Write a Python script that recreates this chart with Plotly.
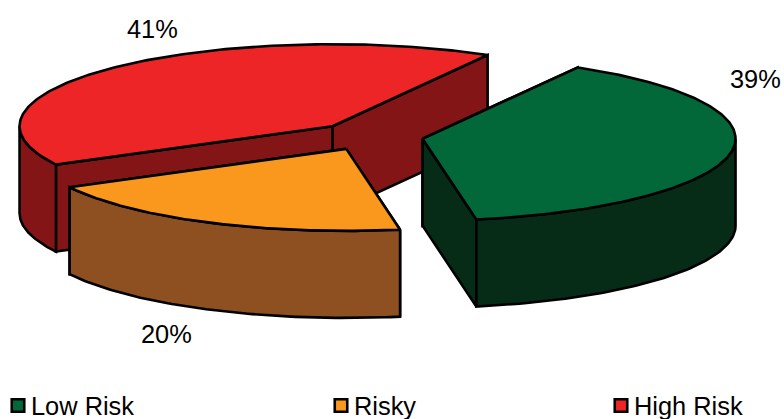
import numpy as np
import plotly.graph_objects as go

# Portfolio risk shares, in the order the slices run round the pie
categories = ["Low Risk", "Risky", "High Risk"]
shares = [39, 20, 41]
share_labels = ["39%", "20%", "41%"]

top_colors = ["#02683A", "#F9981D", "#EE2526"]
wall_colors = ["#062B17", "#8E5021", "#831517"]

# Pie geometry in pixel-sized axis units
CX, CY = 369.8, 136.3
RX, RY = 313.0, 82.0
DEPTH = 87.0
EXPLODE = 0.171
START_DEG = -60.3
OUTLINE = 2.6
FONT = "Liberation Sans, Arial, sans-serif"
FONT_SIZE = 25.4

label_xy = {"Low Risk": (755, 79), "Risky": (166, 334), "High Risk": (152.5, 29)}
legend_xy = {"Low Risk": 18, "Risky": 341, "High Risk": 621}
LEGEND_Y = 405.5


def rim(t_deg, ox, oy, drop=0.0):
    t = np.radians(t_deg)
    return ox + RX * np.cos(t), oy + RY * np.sin(t) + drop


fig = go.Figure()


def add_poly(xs, ys, fill):
    fig.add_trace(go.Scatter(
        x=list(xs), y=list(ys), mode="lines", fill="toself", fillcolor=fill,
        line=dict(color="black", width=OUTLINE), hoverinfo="skip", showlegend=False,
    ))


# Slice angular spans follow from the shares
spans = []
angle = START_DEG
for share in shares:
    sweep = share * 3.6
    spans.append((angle, angle + sweep))
    angle += sweep

# Back-to-front painting: high risk, then risky, then low risk
for i in [2, 1, 0]:
    a0, a1 = spans[i]
    mid = np.radians((a0 + a1) / 2)
    ox = CX + EXPLODE * RX * np.cos(mid)
    oy = CY + EXPLODE * RY * np.sin(mid)

    # Radial side walls
    for edge in (a0, a1):
        ex, ey = rim(edge, ox, oy)
        add_poly([ox, ex, ex, ox, ox], [oy, ey, ey + DEPTH, oy + DEPTH, oy], wall_colors[i])

    # Outer wall: only the front half of the rim (0..180 degrees) faces the viewer
    for k in (-1, 0, 1):
        lo = max(a0, 0 + 360 * k)
        hi = min(a1, 180 + 360 * k)
        if hi > lo:
            ts = np.linspace(lo, hi, 80)
            tx, ty = rim(ts, ox, oy)
            bx, by = rim(ts[::-1], ox, oy, DEPTH)
            add_poly(np.r_[tx, bx, tx[0]], np.r_[ty, by, ty[0]], wall_colors[i])

    # Top face
    ts = np.linspace(a0, a1, 200)
    tx, ty = rim(ts, ox, oy)
    add_poly(np.r_[ox, tx, ox], np.r_[oy, ty, oy], top_colors[i])

# Percentage labels
for name, text in zip(categories, share_labels):
    x, y = label_xy[name]
    fig.add_annotation(x=x, y=y, text=text, showarrow=False, xanchor="center", yanchor="middle",
                       font=dict(family=FONT, size=FONT_SIZE, color="black"))

# Legend row: swatch plus name
for name, color in zip(categories, top_colors):
    x = legend_xy[name]
    fig.add_trace(go.Scatter(
        x=[x], y=[LEGEND_Y], mode="markers", name=name, hoverinfo="name", showlegend=False,
        marker=dict(symbol="square", size=12.5, color=color, line=dict(color="black", width=2.6)),
    ))
    fig.add_annotation(x=x + 10.5, y=LEGEND_Y, text=name, showarrow=False, xanchor="left", yanchor="middle",
                       font=dict(family=FONT, size=FONT_SIZE, color="black"))

fig.update_layout(
    width=784, height=419, autosize=False,
    margin=dict(l=0, r=0, t=0, b=0),
    paper_bgcolor="white", plot_bgcolor="white", showlegend=False,
    xaxis=dict(range=[0, 784], visible=False, fixedrange=True),
    yaxis=dict(range=[419, 0], visible=False, fixedrange=True),
)

fig.write_html("out.html", config=dict(displayModeBar=False))
